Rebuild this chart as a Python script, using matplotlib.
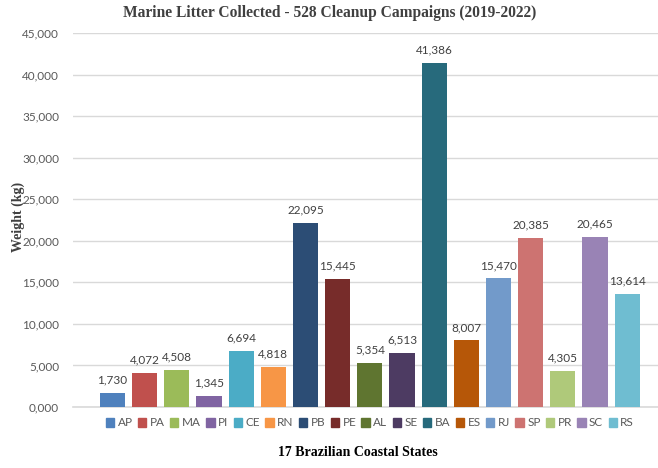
import matplotlib.pyplot as plt
from matplotlib.patches import Patch

states = ["AP", "PA", "MA", "PI", "CE", "RN", "PB", "PE", "AL", "SE",
          "BA", "ES", "RJ", "SP", "PR", "SC", "RS"]
weights = [1730, 4072, 4508, 1345, 6694, 4818, 22095, 15445, 5354, 6513,
           41386, 8007, 15470, 20385, 4305, 20465, 13614]
colors = ["#4F81BD", "#C0504D", "#9BBB59", "#8064A2", "#4BACC6", "#F79646",
          "#2C4D75", "#772C2A", "#5F7530", "#4D3B62", "#276A7C", "#B65708",
          "#729ACA", "#CD7371", "#AFC97A", "#9983B5", "#6FBDD1"]
yticks = list(range(0, 45001, 5000))

W, H = 658, 468
fig = plt.figure(figsize=(W / 100, H / 100), dpi=100)
ax = fig.add_axes([73 / W, 1 - 407 / H, 1 - 73 / W, (407 - 33) / H])

x = range(len(states))
ax.bar(x, weights, width=0.78, color=colors, zorder=3)
for xi, v in zip(x, weights):
    ax.text(xi, v + 900, f"{v:,}", ha="center", va="bottom",
            fontsize=8.5, color="#404040", family="Lato")

ax.set_xlim(-1.23, 16.96)
ax.set_ylim(0, 45000)
ax.set_yticks(yticks)
ax.set_yticklabels([format(t, "05,d") for t in yticks],
                   fontsize=8.5, color="#595959", family="Lato")
ax.set_xticks([])
ax.tick_params(axis="y", length=0, pad=10)
ax.grid(axis="y", color="#D9D9D9", linewidth=1, zorder=0)
for s in ["top", "right", "left"]:
    ax.spines[s].set_visible(False)
ax.spines["bottom"].set_color("#D9D9D9")
ax.spines["bottom"].set_linewidth(1.2)

fig.text(330 / W, 1 - 13 / H, "Marine Litter Collected - 528 Cleanup Campaigns (2019-2022)",
         ha="center", va="center", fontsize=11.2, fontweight="bold",
         family="Liberation Serif", color="#404040")
fig.text(18 / W, 1 - 217 / H, "Weight (kg)", rotation=90, ha="center", va="center",
         fontsize=10, fontweight="bold", family="Liberation Serif", color="#404040")
fig.text(358 / W, 1 - 452 / H, "17 Brazilian Coastal States", ha="center", va="center",
         fontsize=10, fontweight="bold", family="Liberation Serif", color="#000000")

handles = [Patch(color=c) for c in colors]
fig.legend(handles, states, loc="center", bbox_to_anchor=(370 / W, 1 - 423 / H),
           ncol=len(states), frameon=False, handlelength=0.7,
           handleheight=0.7, handletextpad=0.3, columnspacing=0.45,
           labelcolor="#595959", prop={"family": "Lato", "size": 8.5})

fig.savefig("out.png", dpi=100)
